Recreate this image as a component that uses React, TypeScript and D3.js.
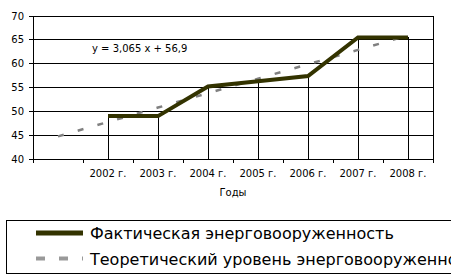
import React from "react";
import * as d3 from "d3";

const categories = ["", "2002 г.", "2003 г.", "2004 г.", "2005 г.", "2006 г.", "2007 г.", "2008 г."];
const actualYears = ["2002 г.", "2003 г.", "2004 г.", "2005 г.", "2006 г.", "2007 г.", "2008 г."];
const actualValues = [49, 49, 55.2, 56.3, 57.4, 65.5, 65.5];
const yTicks = [40, 45, 50, 55, 60, 65, 70];
const equationLabel = "y = 3,065 x + 56,9";
const axisTitle = "Годы";
const legendActual = "Фактическая энерговооруженность";
const legendTrend = "Теоретический уровень энерговооруженности";

const W = 451;
const H = 280;
const FONT = "DejaVu Sans, Verdana, sans-serif";

export default function App() {
  const x = d3.scaleBand<string>().domain(categories).range([33, 433]).padding(0);
  const y = d3.scaleLinear().domain([40, 70]).range([159, 16]);
  const cx = (c: string) => (x(c) as number) + x.bandwidth() / 2;

  const pts = actualYears.map((c, i) => ({ c, v: actualValues[i] }));
  const line = d3
    .line<{ c: string; v: number }>()
    .x((d) => cx(d.c))
    .y((d) => y(d.v));

  // linear trend (least squares over indices 1..n), extended backward one period
  const xs = actualValues.map((_, i) => i + 1);
  const mx = d3.mean(xs) as number;
  const my = d3.mean(actualValues) as number;
  const slope =
    (d3.sum(xs.map((xi, i) => (xi - mx) * (actualValues[i] - my))) as number) /
    (d3.sum(xs.map((xi) => (xi - mx) ** 2)) as number);
  const intercept = my - slope * mx;
  const trendPts = categories.map((c, i) => ({ c, v: intercept + slope * i }));

  const bounds = categories.map((c) => x(c) as number).concat([433]);

  return (
    <svg width={W} height={H} style={{ position: "absolute", left: 0, top: 0 }} fontFamily={FONT}>
      <rect x={0} y={0} width={W} height={H} fill="#fff" />
      {yTicks.map((t) => (
        <g key={t}>
          <line x1={29} x2={433} y1={y(t)} y2={y(t)} stroke="#000" strokeWidth={1} shapeRendering="crispEdges" />
          <text x={24} y={y(t) + 3.5} fontSize={10} textAnchor="end" fill="#000">
            {t}
          </text>
        </g>
      ))}
      <line x1={33} x2={33} y1={16} y2={159} stroke="#000" shapeRendering="crispEdges" />
      <line x1={433} x2={433} y1={16} y2={159} stroke="#000" shapeRendering="crispEdges" />
      {bounds.map((b, i) => (
        <line key={i} x1={b} x2={b} y1={159} y2={163} stroke="#000" shapeRendering="crispEdges" />
      ))}
      {categories.map((c, i) =>
        c ? (
          <text key={i} x={cx(c)} y={177} fontSize={10} textAnchor="middle" fill="#000">
            {c}
          </text>
        ) : null
      )}
      <text x={233} y={196} fontSize={10} textAnchor="middle" fill="#000">
        {axisTitle}
      </text>
      {pts.map((p) => (
        <line key={p.c} x1={cx(p.c)} x2={cx(p.c)} y1={y(p.v)} y2={159} stroke="#000" shapeRendering="crispEdges" />
      ))}
      <path d={line(trendPts) as string} fill="none" stroke="#808080" strokeWidth={2.5} strokeDasharray="6,14.5" />
      <path d={line(pts) as string} fill="none" stroke="#333300" strokeWidth={4} strokeLinejoin="miter" />
      <text x={92} y={52} fontSize={10} fill="#000">
        {equationLabel}
      </text>
      <rect x={6.5} y={220.5} width={460} height={53} fill="none" stroke="#000" />
      <line x1={36} x2={83} y1={233} y2={233} stroke="#333300" strokeWidth={5} />
      <text x={90} y={239} fontSize={16} fill="#000">
        {legendActual}
      </text>
      <line x1={36} x2={83} y1={258.5} y2={258.5} stroke="#999" strokeWidth={4} strokeDasharray="9,14" />
      <text x={90} y={265} fontSize={16} fill="#000">
        {legendTrend}
      </text>
    </svg>
  );
}
